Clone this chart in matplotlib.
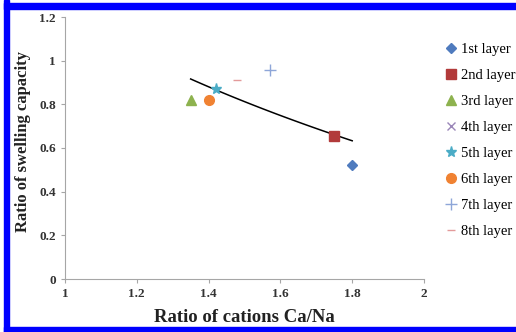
import matplotlib
matplotlib.use("Agg")
import matplotlib.pyplot as plt
import numpy as np
from matplotlib.patches import Rectangle

# layer points (ratio Ca/Na, ratio of swelling capacity)
layers = ["1st layer", "2nd layer", "3rd layer", "4th layer",
          "5th layer", "6th layer", "7th layer", "8th layer"]
ca_na = [1.80, 1.75, 1.35, None, 1.42, 1.40, 1.57, 1.48]
swell = [0.52, 0.655, 0.82, None, 0.87, 0.82, 0.955, 0.91]
markers = ["D", "s", "^", "x", "*", "o", "+", "_"]
colors = ["#4F7BBE", "#B23A3A", "#8DB24E", "#9A86B8", "#4BACC6",
          "#F08232", "#8EA6D8", "#E39A9A"]
sizes = [5, 7, 7, 6, 8, 7, 8, 6]

serif = ["Liberation Serif", "DejaVu Serif"]

fig = plt.figure(figsize=(5.16, 3.32), dpi=100)
ax = fig.add_axes([65 / 516, 53 / 332, 359 / 516, 262 / 332])

for lab, x, y, m, c, s in zip(layers, ca_na, swell, markers, colors, sizes):
    xs = [] if x is None else [x]
    ys = [] if y is None else [y]
    ax.plot(xs, ys, ls="none", marker=m, color=c, ms=s, mew=1.0, label=lab)

# logarithmic trend line over the plotted points
px = np.array([v for v in ca_na if v is not None])
py = np.array([v for v in swell if v is not None])
b, a = np.polyfit(np.log(px), py, 1)
tx = np.linspace(px.min(), px.max(), 50)
ax.plot(tx, a + b * np.log(tx), color="black", lw=1.1, zorder=1)

ax.set_xlim(1, 2)
ax.set_ylim(0, 1.2)
ax.set_xticks([1, 1.2, 1.4, 1.6, 1.8, 2])
ax.set_xticklabels(["1", "1.2", "1.4", "1.6", "1.8", "2"])
ax.set_yticks([0, 0.2, 0.4, 0.6, 0.8, 1, 1.2])
ax.set_yticklabels(["0", "0.2", "0.4", "0.6", "0.8", "1", "1.2"])
for sp in ["top", "right"]:
    ax.spines[sp].set_visible(False)
for sp in ["left", "bottom"]:
    ax.spines[sp].set_color("#A6A6A6")
ax.tick_params(colors="#A6A6A6", length=3, width=0.8, labelcolor="#333333")
for t in ax.get_xticklabels() + ax.get_yticklabels():
    t.set_fontfamily(serif)
    t.set_fontweight("bold")
    t.set_fontsize(9.5)

ax.set_xlabel("Ratio of cations Ca/Na", family=serif, weight="bold",
              fontsize=13.5, color="#222222")
ax.xaxis.set_label_coords(0.5, -0.115)
ax.set_ylabel("Ratio of swelling capacity", family=serif, weight="bold",
              fontsize=12, color="#222222")
ax.yaxis.set_label_coords(-0.095, 0.525)

leg = ax.legend(loc="upper left", bbox_to_anchor=(1.045, 0.925), frameon=False,
                prop={"family": serif, "size": 10.5}, handlelength=0.7,
                handletextpad=0.3, labelspacing=0.88, borderaxespad=0)

# blue frame of the figure
blue = "#0000FF"
fig.patches.append(Rectangle((4 / 516, 0), 5 / 516, 1, transform=fig.transFigure,
                             color=blue, zorder=10))
fig.patches.append(Rectangle((4 / 516, 1 - 9 / 332), 1, 6 / 332,
                             transform=fig.transFigure, color=blue, zorder=10))
fig.patches.append(Rectangle((4 / 516, 0), 1, 5 / 332, transform=fig.transFigure,
                             color=blue, zorder=10))

fig.savefig("out.png", dpi=100)
